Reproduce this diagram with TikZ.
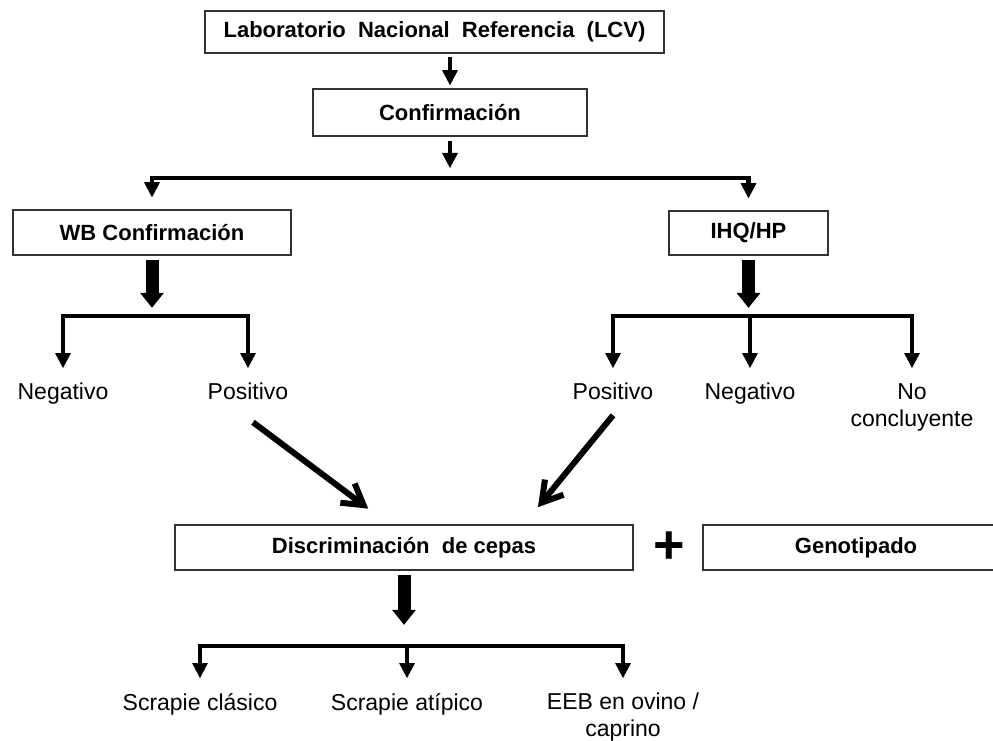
\documentclass[tikz,border=0pt]{standalone}
\usepackage{fontspec}
\setmainfont{Liberation Sans}
\usepackage{tikz}
\usetikzlibrary{arrows.meta,calc}

\begin{document}
\begin{tikzpicture}[x=1pt,y=-1pt]
    \tikzstyle{caja}=[draw=black!80,line width=1.6pt,minimum height=45pt,
                      inner sep=0pt,font=\fontsize{22}{26}\selectfont\bfseries]
    \tikzstyle{res}=[anchor=north,inner sep=0pt,align=center,
                     font=\fontsize{23}{27}\selectfont]
    \tikzstyle{fina}=[line width=4.5pt,
                      -{Triangle[length=15pt,width=16pt,line width=0pt]}]
    \tikzstyle{gruesa}=[line width=13pt,
                        -{Triangle[length=15pt,width=24pt,line width=0pt]}]
    \tikzstyle{diag}=[line width=6pt,-{Straight Barb[length=20pt,width=24pt]}]

    \path[use as bounding box,clip] (0,0) rectangle (993,741);

    % cajas
    \node[caja,minimum width=459pt,minimum height=42pt] (lab) at (434.5,32)
        {Laboratorio\ \ Nacional\ \ Referencia\ \ (LCV)};
    \node[caja,minimum width=274pt,minimum height=47pt] (conf) at (450,112.5)
        {Confirmación};
    \node[caja,minimum width=278pt] (wb) at (152,232.5) {WB Confirmación};
    \node[caja,minimum width=159pt,minimum height=44pt] (ihq) at (748.5,233)
        {IHQ/HP};
    \node[caja,minimum width=458pt] (disc) at (404,547.5)
        {Discriminación\ \ de cepas};
    \node[caja,minimum width=306pt] (geno) at (856,547.5) {Genotipado};
    \node[inner sep=0pt,font=\fontsize{54}{54}\selectfont\bfseries] (mas)
        at (669,548) {+};

    % resultados
    \node[res] (wbneg) at (63,383) {Negativo};
    \node[res] (wbpos) at (248,383) {Positivo};
    \node[res] (ihqpos) at (613,383) {Positivo};
    \node[res] (ihqneg) at (750,383) {Negativo};
    \node[res] (ihqnc) at (912,383) {No\\concluyente};
    \node[res] (sc) at (200,693) {Scrapie clásico};
    \node[res] (sa) at (407,693) {Scrapie atípico};
    \node[res] (eeb) at (623,693) {EEB en ovino /\\caprino};

    \coordinate (s1) at (450,178);
    \coordinate (s2) at ($(wb.south)+(0,60)$);
    \coordinate (s3) at ($(ihq.south)+(0,60)$);
    \coordinate (s4) at ($(disc.south)+(0,75)$);

    \draw[fina,shorten <=3pt,shorten >=3pt] (conf.north |- lab.south) -- (conf.north);
    \draw[fina,shorten <=4pt,shorten >=10pt] (conf.south) -- (s1);
    \draw[fina,shorten >=12pt] (s1) -| (wb.north);
    \draw[fina,shorten >=12pt] (s1) -| (ihq.north);

    \draw[gruesa,shorten <=4pt,shorten >=8pt] (wb.south) -- (s2);
    \draw[fina,shorten >=15pt] (s2) -| (wbneg.north);
    \draw[fina,shorten >=15pt] (s2) -| (wbpos.north);

    \draw[gruesa,shorten <=4pt,shorten >=8pt] (ihq.south) -- (s3);
    \draw[fina,shorten >=15pt] (s3) -| (ihqpos.north);
    \draw[fina,shorten >=15pt] (s3) -| (ihqneg.north);
    \draw[fina,shorten >=15pt] (s3) -| (ihqnc.north);

    % positivos hacia discriminacion
    \coordinate (d1) at ($(wbpos.south)+(5,22)$);
    \coordinate (d2) at ($(ihqpos.south)+(0,15)$);
    \coordinate (e1) at ($(disc.north)+(-15,0)$);
    \coordinate (e2) at ($(disc.north)+(120,0)$);
    \draw[diag,shorten >=26pt] (d1) -- (e1);
    \draw[diag,shorten >=22pt] (d2) -- (e2);

    \draw[gruesa,shorten <=4pt,shorten >=21pt] (disc.south) -- (s4);
    \draw[fina,shorten >=15pt] (s4) -| (sc.north);
    \draw[fina,shorten >=15pt] (s4) -| (sa.north);
    \draw[fina,shorten >=15pt] (s4) -| (eeb.north);
\end{tikzpicture}
\end{document}
